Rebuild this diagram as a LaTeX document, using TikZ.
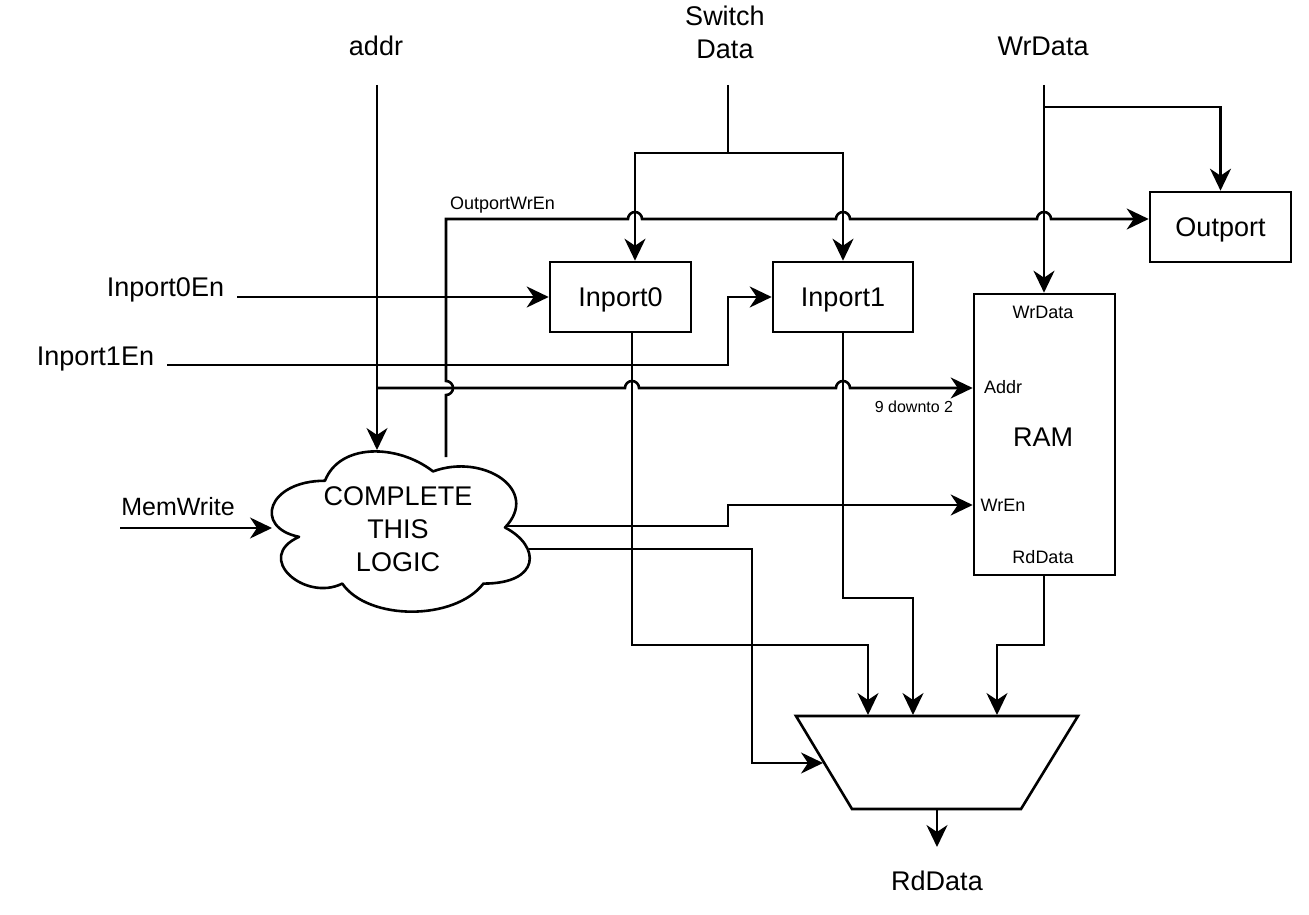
\documentclass[tikz,border=0pt]{standalone}
\usepackage{fontspec}
\setmainfont{Liberation Sans}
\usetikzlibrary{arrows.meta}
\newcommand\fbig{\fontsize{27}{33}\selectfont}
\newcommand\fmid{\fontsize{25}{30}\selectfont}
\newcommand\fsml{\fontsize{18}{22}\selectfont}
\newcommand\ftny{\fontsize{16}{19}\selectfont}
\begin{document}
\begin{tikzpicture}[x=1pt,y=-1pt,
  wire/.style={line width=2.6pt},
  arr/.style={wire,-{Stealth[length=22pt,width=21pt,inset=7pt]}},
  box/.style={draw,line width=2.6pt,inner sep=0pt,font=\fbig,text height=19.3pt,text depth=0pt},
  lblbig/.style={inner sep=0pt,font=\fbig,text height=19.3pt,text depth=0pt},
  lblmid/.style={inner sep=0pt,font=\fmid,text height=17.9pt,text depth=0pt},
  lblsml/.style={inner sep=0pt,font=\fsml,text height=12.9pt,text depth=0pt},
  lbltny/.style={inner sep=0pt,font=\ftny,text height=11.5pt,text depth=0pt},
  multi/.style={inner sep=0pt,font=\fbig,align=center}]
\useasboundingbox (0,0) rectangle (1309,915);
\fill[white] (0,0) rectangle (1309,915);

% ---------- boxes ----------
\node[box,minimum width=141pt,minimum height=70pt] (in0) at (620.5,297) {Inport0};
\node[box,minimum width=140pt,minimum height=70pt] (in1) at (843,297) {Inport1};
\node[box,minimum width=141pt,minimum height=70pt] (outp) at (1220.5,227) {Outport};
\node[draw,line width=2.6pt,minimum width=141pt,minimum height=281pt,inner sep=0pt] (ram) at (1044.5,434.5) {};
\node[lblsml] (ramwr) at (1043,312) {WrData};
\node[lblsml] (ramaddr) at (1003,387) {Addr};
\node[lblbig] (ramname) at (1043,437) {RAM};
\node[lblsml] (ramwren) at (1003,505) {WrEn};
\node[lblsml] (ramrd) at (1043,557) {RdData};

% ---------- mux ----------
\coordinate (muxTL) at (796,716);
\coordinate (muxTR) at (1078,716);
\coordinate (muxBR) at (1021,809);
\coordinate (muxBL) at (852,809);
\draw[wire] (muxTL) -- (muxTR) -- (muxBR) -- (muxBL) -- cycle;
\coordinate (muxA) at (868,715);
\coordinate (muxB) at (913,715);
\coordinate (muxC) at (997,715);
\coordinate (muxL) at (823,763);
\coordinate (muxO) at (937,809);

% ---------- cloud ----------
\draw[wire,line join=round] (325,480.75)
  .. controls (267.4,480.75) and (253,527.5) .. (299.08,536.85)
  .. controls (253,557.42) and (304.84,602.3) .. (342.28,583.6)
  .. controls (368.2,621) and (454.6,621) .. (483.4,583.6)
  .. controls (541,583.6) and (541,546.2) .. (505,527.5)
  .. controls (541,490.1) and (483.4,452.7) .. (433,471.4)
  .. controls (397,443.35) and (339.4,443.35) .. (325,480.75) -- cycle;
\node[multi] (cloud) at (398,529) {COMPLETE\\THIS\\LOGIC};
\coordinate (cTop) at (377,450);
\coordinate (cIn) at (272,528);
\coordinate (cO1) at (506,526);
\coordinate (cO2) at (529,549);
\coordinate (oweS) at (446,457);

% ---------- labels ----------
\node[lblbig] (addr) at (376,46) {addr};
\node[multi] (sw) at (725,32) {Switch\\Data};
\node[lblbig] (wrd) at (1043,46) {WrData};
\node[lblbig] (i0en) at (165.5,287) {Inport0En};
\node[lblbig] (i1en) at (95.5,356) {Inport1En};
\node[lblmid] (mw) at (178,507) {MemWrite};
\node[lblsml] (owe) at (502.5,203.5) {OutportWrEn};
\node[lbltny] (dt) at (914,407) {9 downto 2};
\node[lblbig] (rdd) at (937,881) {RdData};

% ---------- connector points ----------
\coordinate (addrS) at (377,85);
\coordinate (addrJ) at (377,388);
\coordinate (swS) at (728,85);
\coordinate (swJ) at (728,153);
\coordinate (sw0) at (635,153);
\coordinate (wrS) at (1044,85);
\coordinate (wrJ) at (1044,107);
\coordinate (oweJ) at (446,219);
\coordinate (i0S) at (237,297);
\coordinate (i1S) at (167,365);
\coordinate (i1J) at (728,297);
\coordinate (mwS) at (120,528);
\coordinate (wrenJ) at (728,505);
\coordinate (cO2J) at (752,763);
\coordinate (p0) at (632,645);
\coordinate (q1) at (913,598);
\coordinate (r0) at (1044,645);
\coordinate (rdS) at (937,847);

% ---------- connectors ----------
% addr
\draw[arr] (addrS) -- (cTop);
\draw[arr] (addrJ) -- (625,388) arc[start angle=180,end angle=360,radius=7]
  -- (836,388) arc[start angle=180,end angle=360,radius=7] -- (addrJ -| ram.west);
% switch data
\draw[wire] (swS) -- (swJ);
\draw[arr] (swJ) -- (sw0) -- (sw0 |- in0.north);
\draw[arr] (swJ) -| (in1.north);
% WrData
\draw[arr] (wrS) -- (wrS |- ram.north);
\draw[arr] (wrJ) -| (outp.north);
% OutportWrEn
\draw[arr] (oweS) -- (446,395) arc[start angle=90,end angle=-90,radius=7] -- (oweJ)
  -- (628,219) arc[start angle=180,end angle=360,radius=7]
  -- (836,219) arc[start angle=180,end angle=360,radius=7]
  -- (1037,219) arc[start angle=180,end angle=360,radius=7]
  -- (oweJ -| outp.west);
% enables
\draw[arr] (i0S) -- (i0S -| in0.west);
\draw[arr] (i1S) -| (i1J) -- (in1.west);
\draw[arr] (mwS) -- (cIn);
% cloud outputs
\draw[arr] (cO1) -| (wrenJ) -- (wrenJ -| ram.west);
\draw[arr] (cO2) -| (cO2J) -- (muxL);
% to mux
\draw[arr] (in0.south -| p0) -- (p0) -| (muxA);
\draw[arr] (in1.south) |- (q1) -- (muxB);
\draw[arr] (ram.south -| r0) -- (r0) -| (muxC);
\draw[arr] (muxO) -- (rdS);
\end{tikzpicture}
\end{document}
